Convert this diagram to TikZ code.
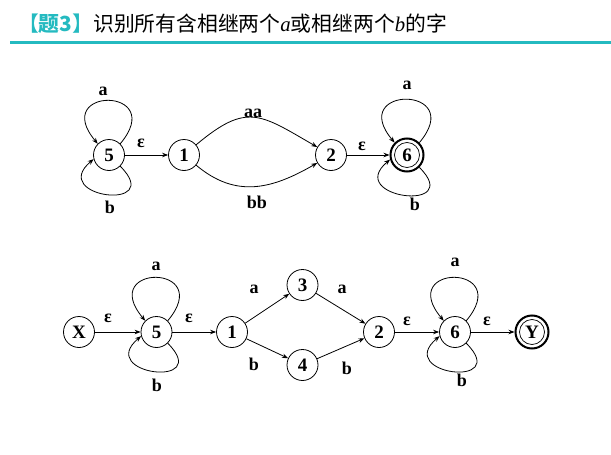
\documentclass[tikz,border=0pt]{standalone}
\usepackage{fontspec}
\setmainfont{Liberation Serif}
\newfontfamily\cjk{Noto Sans CJK SC}
\usetikzlibrary{arrows.meta}
\definecolor{teal1}{RGB}{36,186,192}
\begin{document}
\begin{tikzpicture}[x=1pt,y=-1pt,
  st/.style={draw, circle, line width=0.8pt, minimum size=31pt, inner sep=0pt,
    font=\fontsize{19}{19}\selectfont\bfseries},
  acc/.style={st, line width=2pt, minimum size=33pt},
  lab/.style={font=\fontsize{18}{18}\selectfont\bfseries, inner sep=0pt},
  edge/.style={line width=0.8pt, -{Stealth[length=6pt,width=4.5pt]}},
  titletxt/.style={anchor=base west, inner sep=0pt, font=\fontsize{20.8}{20.8}\selectfont\cjk}
]
\useasboundingbox (0,0) rectangle (611,455);

% title
\node[titletxt] (title) at (18,31) {{\color{teal1}【\textbf{题3}】}识别所有含相继两个{\rmfamily\itshape a}或相继两个{\rmfamily\itshape b}的字};
\coordinate (tl) at (10,42.7);
\coordinate (tr) at (611,42.7);
\draw[teal1, line width=2.5pt] (tl) -- (tr);

% ---------- top automaton
\node[st] (a5) at (109,155) {5};
\node[st] (a1) at (184,155) {1};
\node[st] (a2) at (331,155) {2};
\node[acc] (a6) at (407,155) {6};
\draw[line width=0.7pt] (a6.center) circle[radius=12.5pt];

\draw[edge] (a5.45) .. controls +(50:75pt) and +(130:75pt) .. (a5.135);
\draw[edge] (a5.-45) .. controls +(-45:65pt) and +(-140:60pt) .. (a5.195);
\draw[edge] (a6.45) .. controls +(50:75pt) and +(130:75pt) .. (a6.135);
\draw[edge] (a6.-45) .. controls +(-45:65pt) and +(-140:60pt) .. (a6.195);
\draw[edge] (a5) -- (a1);
\draw[edge] (a1) to[out=40, in=150, looseness=1.4] (a2);
\draw[edge] (a1) to[out=-40, in=-150, looseness=1.1] (a2);
\draw[edge] (a2) -- (a6);

\node[lab] (la1) at (103,91) {a};
\node[lab] (lb1) at (110,207) {b};
\node[lab] (le1) at (141,143) {ε};
\node[lab] (laa) at (253,113) {aa};
\node[lab] (lbb) at (257,202) {bb};
\node[lab] (le2) at (362,146) {ε};
\node[lab] (la2) at (407,85) {a};
\node[lab] (lb2) at (415,204) {b};

% ---------- bottom automaton
\node[st] (bX) at (79,332) {X};
\node[st] (b5) at (156.5,332) {5};
\node[st] (b1) at (232,332) {1};
\node[st] (b3) at (302.5,285) {3};
\node[st] (b4) at (302.5,365) {4};
\node[st] (b2) at (379,332) {2};
\node[st] (b6) at (455,332) {6};
\node[acc] (bY) at (532,332) {Y};
\draw[line width=0.7pt] (bY.center) circle[radius=12.5pt];

\draw[edge] (bX) -- (b5);
\draw[edge] (b5.45) .. controls +(50:75pt) and +(130:75pt) .. (b5.135);
\draw[edge] (b5.-45) .. controls +(-45:65pt) and +(-140:60pt) .. (b5.195);
\draw[edge] (b5) -- (b1);
\draw[edge] (b1) -- (b3);
\draw[edge] (b1) -- (b4);
\draw[edge] (b3) -- (b2);
\draw[edge] (b4) -- (b2);
\draw[edge] (b2) -- (b6);
\draw[edge] (b6.45) .. controls +(50:75pt) and +(130:75pt) .. (b6.135);
\draw[edge] (b6.-45) .. controls +(-45:65pt) and +(-140:60pt) .. (b6.195);
\draw[edge] (b6) -- (bY);

\node[lab] (m1) at (108,318) {ε};
\node[lab] (m2) at (156,266) {a};
\node[lab] (m3) at (157,385) {b};
\node[lab] (m4) at (189,318) {ε};
\node[lab] (m5) at (254,289) {a};
\node[lab] (m6) at (254,364) {b};
\node[lab] (m7) at (342,289) {a};
\node[lab] (m8) at (347,368) {b};
\node[lab] (m9) at (407,321) {ε};
\node[lab] (m10) at (455,262) {a};
\node[lab] (m11) at (462,380) {b};
\node[lab] (m12) at (487,321) {ε};
\end{tikzpicture}
\end{document}
